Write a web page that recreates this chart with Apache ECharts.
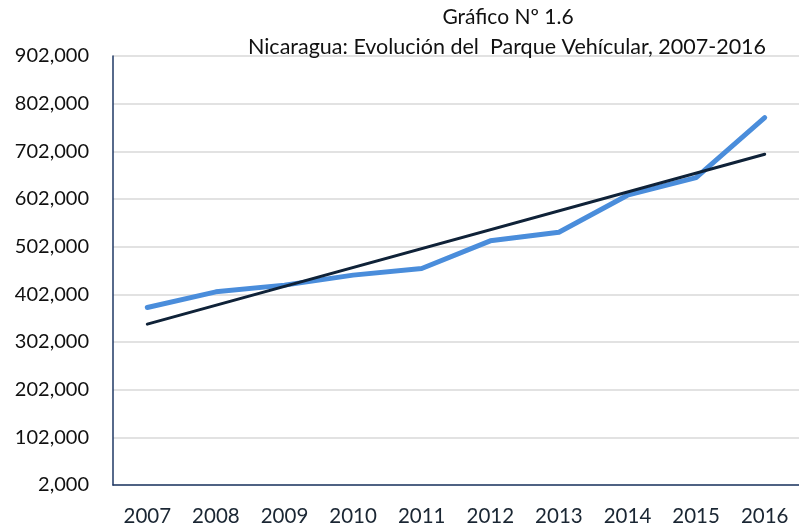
<!DOCTYPE html>
<html>
<head>
<meta charset="utf-8">
<script src="https://cdn.jsdelivr.net/npm/echarts@6/dist/echarts.min.js"></script>
<style>html,body{margin:0;padding:0;background:#fff}#c{width:799px;height:527px}</style>
</head>
<body>
<div id="c"></div>
<script>
const years = ['2007','2008','2009','2010','2011','2012','2013','2014','2015','2016'];
const parque = [374500, 407200, 421300, 442300, 456300, 514200, 532400, 610000, 647000, 772900];
const tendencia = [339500, null, null, null, null, null, null, null, null, 695900];
const yMin = 2000, yMax = 902000, yStep = 100000;
const titulo1 = 'Gráfico Nº 1.6';
const titulo2 = 'Nicaragua: Evolución del  Parque Vehícular, 2007-2016';

const FONT = 'Lato';
const chart = echarts.init(document.getElementById('c'), null, {renderer: 'canvas'});
chart.setOption({
  animation: false,
  backgroundColor: '#ffffff',
  title: [
    {text: titulo1, left: 503, top: 2, textAlign: 'center',
     textStyle: {fontFamily: FONT, fontSize: 21, fontWeight: 'normal', color: '#111'}},
    {text: titulo2, left: 502, top: 31, textAlign: 'center',
     textStyle: {fontFamily: FONT, fontSize: 21.5, fontWeight: 'normal', color: '#111'}}
  ],
  grid: {left: 113, top: 56, bottom: 42, right: -6, containLabel: false},
  xAxis: {
    type: 'category', data: years, boundaryGap: true,
    axisLine: {lineStyle: {color: '#1f3864', width: 1.5}},
    axisTick: {show: false},
    axisLabel: {fontFamily: FONT, fontSize: 20.5, color: '#1a2633', margin: 21}
  },
  yAxis: {
    type: 'value', min: yMin, max: yMax, interval: yStep,
    axisLine: {show: true, lineStyle: {color: '#1f3864', width: 1.5}},
    axisTick: {show: false},
    splitLine: {lineStyle: {color: '#d9d9d9', width: 1.5}},
    axisLabel: {fontFamily: FONT, fontSize: 20, color: '#111', margin: 24,
      formatter: v => v.toLocaleString('en-US')}
  },
  series: [
    {type: 'line', data: parque, symbol: 'none', smooth: false,
     lineStyle: {color: '#4a8ddb', width: 5, cap: 'round', join: 'round'}, z: 2},
    {type: 'line', data: tendencia, connectNulls: true, symbol: 'none',
     lineStyle: {color: '#0f2238', width: 3, cap: 'round'}, z: 3}
  ]
});
</script>
</body>
</html>
